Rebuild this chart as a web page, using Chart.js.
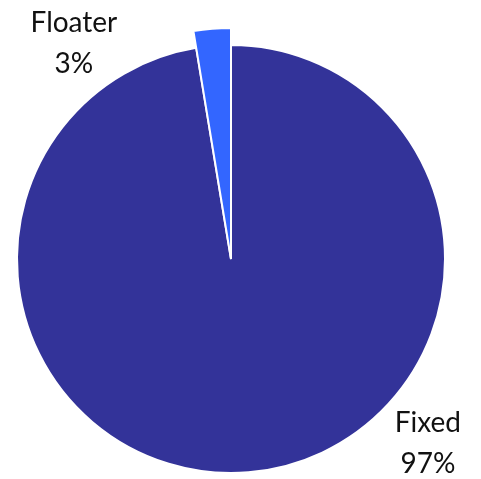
<!DOCTYPE html>
<html>
<head>
<meta charset="utf-8">
<script src="https://cdn.jsdelivr.net/npm/chart.js@4"></script>
<style>
  html, body { margin: 0; padding: 0; background: #fff; }
  #wrap { width: 481px; height: 479px; }
</style>
</head>
<body>
<div id="wrap"><canvas id="grafico"></canvas></div>
<script>
const categorias = ['Fixed', 'Floater'];
const valores = [97.4, 2.6];
const cores = ['#333399', '#3366FF'];
// where each label sits, as a fraction of the radius from the pie centre
const posRotulos = [[0.92, 0.862], [-0.734, -1.01]];

// the Floater slice sticks out past the rest of the pie
const raioExtra = [0, 17];

const rotulos = {
    id: 'rotulos',
    beforeDatasetsDraw(chart) {
        const meta = chart.getDatasetMeta(0);
        meta.data.forEach(function (arc, i) {
            if (arc.$raioBase === undefined) arc.$raioBase = arc.outerRadius;
            arc.outerRadius = arc.$raioBase + raioExtra[i];
        });
    },
    afterDatasetsDraw(chart) {
        const ctx = chart.ctx;
        const meta = chart.getDatasetMeta(0);
        const total = valores.reduce((a, b) => a + b, 0);
        ctx.save();
        ctx.fillStyle = '#111';
        ctx.font = '28px Lato, "Open Sans", sans-serif';
        ctx.textAlign = 'center';
        ctx.textBaseline = 'middle';
        meta.data.forEach(function (arc, i) {
            const r = arc.$raioBase;
            const x = arc.x + posRotulos[i][0] * r;
            const y = arc.y + posRotulos[i][1] * r;
            ctx.fillText(categorias[i], x, y - 20);
            ctx.fillText(Math.round(valores[i] / total * 100) + '%', x, y + 21);
        });
        ctx.restore();
    }
};

new Chart(document.getElementById('grafico'), {
    type: 'pie',
    data: {
        labels: categorias,
        datasets: [{
            data: valores,
            backgroundColor: cores,
            borderColor: '#ffffff',
            borderWidth: 2
        }]
    },
    options: {
        responsive: true,
        maintainAspectRatio: false,
        animation: false,
        layout: { padding: { left: 16, right: 35, top: 44, bottom: 5 } },
        plugins: {
            legend: { display: false },
            tooltip: { enabled: false }
        }
    },
    plugins: [rotulos]
});
</script>
</body>
</html>
